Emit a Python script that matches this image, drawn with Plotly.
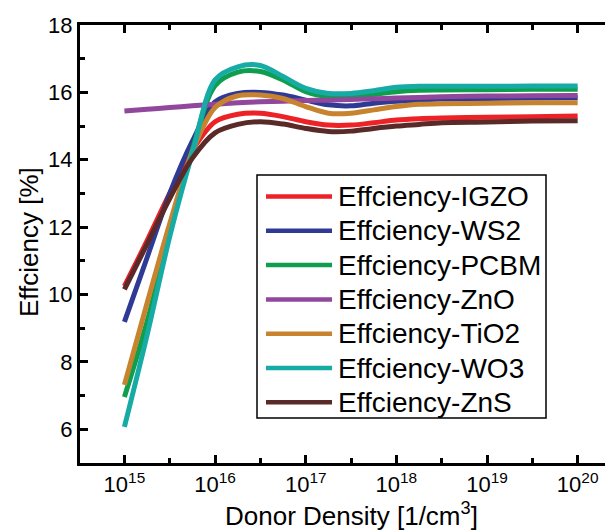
import plotly.graph_objects as go

# Donor density sample points [1/cm^3]
donor_density = [1e15, 1.78e15, 3.16e15, 5.62e15, 1e16, 1.78e16, 3.16e16, 5.62e16,
                 1e17, 1.78e17, 3.16e17, 5.62e17, 1e18, 1.78e18, 3.16e18, 1e19, 3.16e19, 1e20]

eff_igzo = [10.25, 11.6, 13.0, 14.29, 15.13, 15.35, 15.38, 15.28, 15.13, 15.03, 15.03, 15.1,
            15.18, 15.22, 15.24, 15.26, 15.28, 15.30]
eff_ws2 = [9.19, 11.1, 13.0, 14.55, 15.72, 15.97, 16.0, 15.92, 15.77, 15.63, 15.6, 15.68,
           15.74, 15.77, 15.8, 15.82, 15.83, 15.84]
eff_pcbm = [6.96, 9.2, 11.85, 14.3, 16.2, 16.6, 16.62, 16.37, 16.02, 15.87, 15.87, 15.94,
            16.02, 16.06, 16.07, 16.08, 16.09, 16.09]
eff_zno = [15.45, 15.5, 15.55, 15.6, 15.65, 15.69, 15.72, 15.74, 15.76, 15.77, 15.79, 15.81,
           15.83, 15.85, 15.87, 15.89, 15.9, 15.91]
eff_tio2 = [7.32, 9.75, 12.1, 14.25, 15.55, 15.9, 15.92, 15.82, 15.58, 15.38, 15.38, 15.48,
            15.58, 15.65, 15.66, 15.68, 15.69, 15.69]
eff_wo3 = [6.07, 8.8, 11.72, 14.2, 16.37, 16.76, 16.8, 16.47, 16.12, 15.97, 15.97, 16.05,
           16.15, 16.18, 16.18, 16.18, 16.19, 16.19]
eff_zns = [10.15, 11.5, 12.85, 14.05, 14.8, 15.05, 15.13, 15.06, 14.93, 14.84, 14.85, 14.93,
           15.0, 15.05, 15.1, 15.12, 15.15, 15.16]

series_names = ["Effciency-IGZO", "Effciency-WS2", "Effciency-PCBM", "Effciency-ZnO",
                "Effciency-TiO2", "Effciency-WO3", "Effciency-ZnS"]
series_values = [eff_igzo, eff_ws2, eff_pcbm, eff_zno, eff_tio2, eff_wo3, eff_zns]
series_colors = ["#EC2227", "#2E3A94", "#0E9E4E", "#90479C", "#C8832E", "#16ABA5", "#5A2A28"]

x_tickvals = [1e15, 1e16, 1e17, 1e18, 1e19, 1e20]
x_ticktext = ["10<sup>15</sup>", "10<sup>16</sup>", "10<sup>17</sup>", "10<sup>18</sup>",
              "10<sup>19</sup>", "10<sup>20</sup>"]
x_minor = [3.16e15, 3.16e16, 3.16e17, 3.16e18, 3.16e19]
y_tickvals = [6, 8, 10, 12, 14, 16, 18]
y_minor = [7, 9, 11, 13, 15, 17]
x_title = "Donor Density [1/cm<sup>3</sup>]"
y_title = "Effciency [%]"

FONT = "Arial, 'Liberation Sans', sans-serif"

# The page body has a default 8px margin, so the figure is drawn 8px right/down.
OFF = 8
W, H = 613 - OFF, 531 - OFF
ML, MR, MT, MB = 80 - OFF, 0, 25 - OFF, 68
PW, PH = W - ML - MR, H - MT - MB


def px_x(sx):  # screen px -> paper
    return (sx - OFF - ML) / PW


def px_y(sy):
    return (H - MB - (sy - OFF)) / PH


fig = go.Figure()
for name, vals, col in zip(series_names, series_values, series_colors):
    fig.add_trace(go.Scatter(
        x=donor_density, y=vals, name=name, mode="lines",
        line=dict(color=col, width=5, shape="spline", smoothing=0.9),
        showlegend=False,
    ))

axis_common = dict(
    showline=True, linewidth=3, linecolor="black", mirror="allticks",
    ticks="inside", ticklen=8, tickwidth=3, tickcolor="black",
    showgrid=False, zeroline=False, automargin=False,
    tickfont=dict(family=FONT, size=22, color="black"),
)

# custom legend (box, line samples, labels)
shapes = []
annotations = []
leg_left, leg_right, leg_top, leg_bottom = 257, 546, 175, 418
shapes.append(dict(type="rect", xref="paper", yref="paper",
                   x0=px_x(leg_left), x1=px_x(leg_right), y0=px_y(leg_bottom), y1=px_y(leg_top),
                   line=dict(color="black", width=1.5), fillcolor="white", layer="above"))
row0, row_gap = 196.5, 34.3
for i, (name, col) in enumerate(zip(series_names, series_colors)):
    yc = row0 + i * row_gap
    shapes.append(dict(type="line", xref="paper", yref="paper",
                       x0=px_x(266), x1=px_x(332), y0=px_y(yc), y1=px_y(yc),
                       line=dict(color=col, width=4.5), layer="above"))
    annotations.append(dict(text=name, xref="paper", yref="paper",
                            x=px_x(336), y=px_y(yc), xanchor="left", yanchor="middle",
                            showarrow=False, font=dict(family=FONT, size=28, color="black")))

annotations.append(dict(text=x_title, xref="paper", yref="paper",
                        x=px_x(351), y=px_y(514), xanchor="center", yanchor="middle",
                        showarrow=False, font=dict(family=FONT, size=26, color="black")))
annotations.append(dict(text=y_title, xref="paper", yref="paper", textangle=-90,
                        x=px_x(29), y=px_y(242), xanchor="center", yanchor="middle",
                        showarrow=False, font=dict(family=FONT, size=26, color="black")))

fig.update_layout(
    width=W, height=H,
    margin=dict(l=ML, r=MR, t=MT, b=MB, autoexpand=False),
    paper_bgcolor="white", plot_bgcolor="white",
    font=dict(family=FONT, color="black"),
    xaxis=dict(
        type="log", range=[14.51, 20.39],
        tickvals=x_tickvals, ticktext=x_ticktext,
        minor=dict(tickvals=x_minor, ticks="inside", ticklen=5, tickwidth=3, tickcolor="black"),
        **axis_common,
    ),
    yaxis=dict(
        range=[5, 18], tickvals=y_tickvals,
        minor=dict(tickvals=y_minor, ticks="inside", ticklen=5, tickwidth=3, tickcolor="black"),
        **axis_common,
    ),
    shapes=shapes,
    annotations=annotations,
    showlegend=False,
)

fig.write_html("out.html")
